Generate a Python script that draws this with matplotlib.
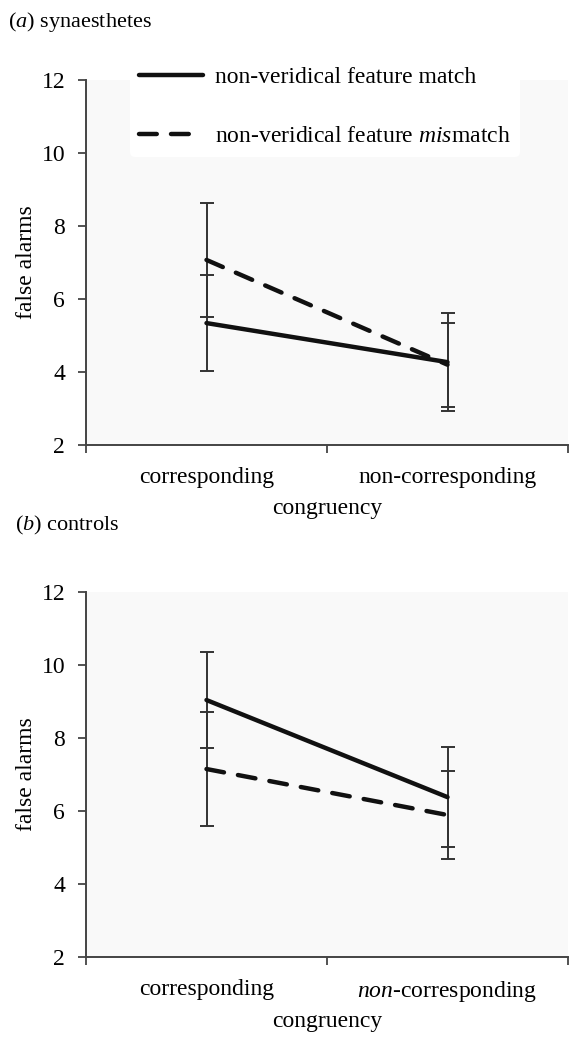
import numpy as np
import matplotlib
matplotlib.use("Agg")
import matplotlib.pyplot as plt

plt.rcParams['font.family'] = ['Liberation Serif', 'DejaVu Serif']
plt.rcParams['mathtext.fontset'] = 'custom'
plt.rcParams['mathtext.rm'] = 'Liberation Serif'
plt.rcParams['mathtext.it'] = 'Liberation Serif:italic'

# data
categories = ["corresponding", "non-corresponding"]
categories_b = ["corresponding", r"$\it{non}$-corresponding"]

syn_match = [5.34, 4.27]
syn_match_err = [1.32, 1.35]
syn_mismatch = [7.07, 4.20]
syn_mismatch_err = [1.55, 1.15]

ctl_match = [9.04, 6.38]
ctl_match_err = [1.32, 1.37]
ctl_mismatch = [7.15, 5.89]
ctl_mismatch_err = [1.55, 1.21]

legend_labels = ["non-veridical feature match", r"non-veridical feature $\it{mis}$match"]

W, H = 569, 1041
fig = plt.figure(figsize=(W / 100, H / 100), dpi=100)

FS = 17
AXC = "#444444"


def panel(rect, match, match_err, mism, mism_err, xlabels, xlpad):
    ax = fig.add_axes(rect)
    ax.set_facecolor("#f9f9f9")
    x = np.arange(len(match)) + 0.5
    ax.errorbar(x, mism, yerr=mism_err, fmt="none", ecolor="#333333",
                elinewidth=1.4, capsize=5, capthick=1.4, zorder=2)
    ax.errorbar(x, match, yerr=match_err, fmt="none", ecolor="#333333",
                elinewidth=1.4, capsize=5, capthick=1.4, zorder=2)
    l1, = ax.plot(x, match, color="#111111", lw=3.2, solid_capstyle="round", zorder=3)
    l2, = ax.plot(x, mism, color="#111111", lw=3.2, dashes=(4, 3.2),
                  dash_capstyle="round", zorder=3)
    ax.set_xlim(0, 2)
    ax.set_ylim(2, 12)
    ax.set_yticks([2, 4, 6, 8, 10, 12])
    ax.set_xticks([0, 1, 2])
    ax.set_xticklabels([])
    ax.set_xticks(x, minor=True)
    ax.set_xticklabels(xlabels, minor=True)
    ax.tick_params(axis="x", which="minor", length=0, pad=16, labelsize=FS)
    ax.tick_params(axis="x", which="major", length=6, width=1.3, color=AXC, direction="out")
    ax.tick_params(axis="y", length=6, width=1.3, color=AXC, labelsize=FS, pad=9)
    for s in ["top", "right"]:
        ax.spines[s].set_visible(False)
    for s in ["left", "bottom"]:
        ax.spines[s].set_color(AXC)
        ax.spines[s].set_linewidth(1.4)
    ax.set_ylabel("false alarms", fontsize=FS, labelpad=3)
    ax.set_xlabel("congruency", fontsize=FS, labelpad=xlpad)
    return ax, l1, l2


ax_a, h1, h2 = panel([86 / W, 1 - 445 / H, 482 / W, 365 / H],
                     syn_match, syn_match_err, syn_mismatch, syn_mismatch_err,
                     categories, 7)
ax_b, _, _ = panel([86 / W, 1 - 957 / H, 482 / W, 365 / H],
                   ctl_match, ctl_match_err, ctl_mismatch, ctl_mismatch_err,
                   categories_b, 5)

leg = fig.legend([h1, h2], legend_labels, loc="upper left",
                 bbox_to_anchor=(118 / W, 1 - 45 / H), frameon=True,
                 fontsize=FS, handlelength=2.7, handletextpad=0.5,
                 labelspacing=1.6, borderpad=0.4)
leg.get_frame().set_facecolor("white")
leg.get_frame().set_edgecolor("none")
leg.get_frame().set_alpha(1)

fig.text(8 / W, 1 - 22 / H, r"($\it{a}$) synaesthetes", fontsize=16, va="center", ha="left")
fig.text(15 / W, 1 - 525 / H, r"($\it{b}$) controls", fontsize=16, va="center", ha="left")

fig.savefig("out.png", dpi=100)
